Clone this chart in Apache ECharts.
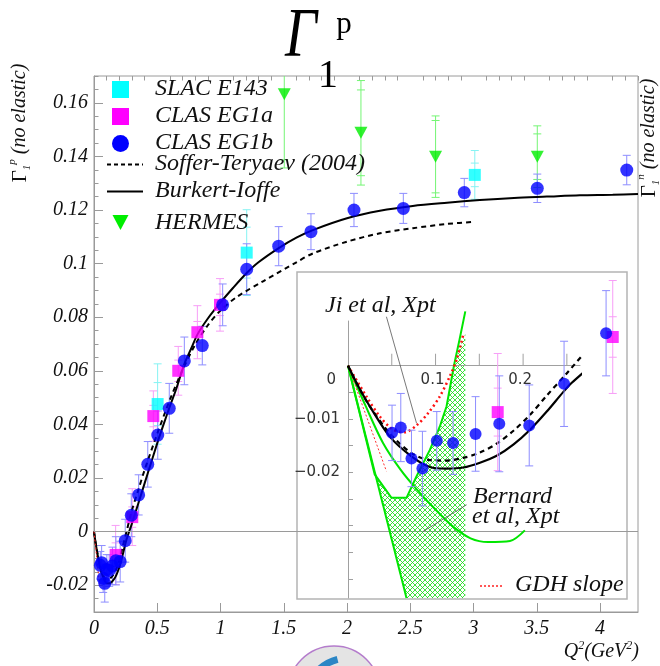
<!DOCTYPE html>
<html><head><meta charset="utf-8">
<script src="https://cdn.jsdelivr.net/npm/echarts@6.0.0/dist/echarts.min.js"></script>
<style>html,body{margin:0;padding:0;background:#fff}#c{width:660px;height:666px}</style>
</head><body><div id="c"></div>
<script>
// ---------------- DATA ----------------
const mainXTicks = [0, 0.5, 1, 1.5, 2, 2.5, 3, 3.5, 4];
const mainXLabels = ['0', '0.5', '1', '1.5', '2', '2.5', '3', '3.5', '4'];
const mainYTicks = [-0.02, 0, 0.02, 0.04, 0.06, 0.08, 0.1, 0.12, 0.14, 0.16];
const mainYLabels = ['-0.02', '0', '0.02', '0.04', '0.06', '0.08', '0.1', '0.12', '0.14', '0.16'];
const insetXTicks = [0.05, 0.1, 0.15, 0.2, 0.25];
const insetXLabelVals = [0.1, 0.2];
const insetXLabels = ['0.1', '0.2'];
const insetYTicks = [-0.005, -0.01, -0.015, -0.02, -0.025, -0.03, -0.035, -0.04];
const insetYLabelVals = [-0.01, -0.02];
const insetYLabels = ['\u22120.01', '\u22120.02'];

// CLAS EG1b (blue circles)
const blueQ2 = [0.0503, 0.0603, 0.0725, 0.085, 0.1014, 0.120, 0.1457, 0.1728, 0.207, 0.2468, 0.2948, 0.353, 0.425, 0.504, 0.595, 0.714, 0.856, 1.017, 1.207, 1.46, 1.715, 2.055, 2.445, 2.927, 3.504, 4.211];
const blueG = [-0.0126, -0.0116, -0.0174, -0.0193, -0.0141, -0.0145, -0.0128, -0.0109, -0.0112, -0.0034, 0.0061, 0.0137, 0.0251, 0.036, 0.046, 0.0637, 0.0694, 0.0846, 0.0979, 0.1065, 0.1119, 0.120, 0.1206, 0.1265, 0.1281, 0.1349];
const blueErr = [0.0052, 0.0064, 0.0053, 0.007, 0.0055, 0.0059, 0.007, 0.009, 0.0076, 0.008, 0.008, 0.0075, 0.0085, 0.009, 0.0093, 0.0089, 0.0072, 0.0078, 0.0095, 0.0073, 0.0067, 0.0062, 0.0056, 0.0053, 0.0053, 0.0055];
// CLAS EG1a (magenta squares)
const magQ2 = [0.171, 0.3024, 0.469, 0.666, 0.817, 0.996];
const magG = [-0.0087, 0.0054, 0.0431, 0.060, 0.0744, 0.0846];
const magErr = [0.011, 0.0106, 0.0094, 0.0091, 0.0099, 0.0098];
const magStat = [0.0045, 0.0038, 0.004, 0.004, 0.004, 0.004];
// SLAC E143 (cyan squares)
const cyanQ2 = [0.503, 1.207, 3.01];
const cyanG = [0.0476, 0.1041, 0.1331];
const cyanErr = [0.015, 0.016, 0.0091];
const cyanStat = [0.008, 0.0095, 0.0044];
// HERMES (green triangles)
const hermesQ2 = [1.504, 2.11, 2.70, 3.504];
const hermesG = [0.1632, 0.1488, 0.1399, 0.1399];
const hermesErr = [0.0275, 0.0195, 0.0152, 0.0115];
const hermesStat = [0.0245, 0.016, 0.0135, 0.0085];

// Burkert-Ioffe (solid)
const burkQ2 = [0, 0.0125, 0.0248, 0.0477, 0.0725, 0.0935, 0.1126, 0.1316, 0.1507, 0.1698, 0.1888, 0.208, 0.227, 0.246, 0.2556, 0.28, 0.3006, 0.35, 0.4, 0.45, 0.5, 0.55, 0.6, 0.65, 0.714, 0.77, 0.817, 0.9, 1.0, 1.1, 1.207, 1.3, 1.46, 1.6, 1.73, 2.0, 2.26, 2.52, 2.79, 3.05, 3.32, 3.58, 3.84, 4.1, 4.3];
const burkG = [0, -0.0041, -0.0076, -0.0133, -0.017, -0.019, -0.0193, -0.0191, -0.0182, -0.0169, -0.0148, -0.012, -0.0086, -0.0049, -0.0032, 0.0003, 0.0031, 0.0105, 0.018, 0.0255, 0.033, 0.040, 0.0468, 0.0532, 0.0625, 0.0685, 0.0735, 0.0795, 0.0855, 0.091, 0.0965, 0.1005, 0.1058, 0.1097, 0.1125, 0.1169, 0.1197, 0.1215, 0.1227, 0.1237, 0.1245, 0.125, 0.1255, 0.1257, 0.126];
// Soffer-Teryaev (2004) (dashed)
const softQ2 = [0, 0.0125, 0.0248, 0.0477, 0.0725, 0.0935, 0.1126, 0.1316, 0.1507, 0.17, 0.189, 0.208, 0.227, 0.25, 0.2975, 0.35, 0.4, 0.5, 0.6, 0.7, 0.8, 0.9, 1.0, 1.13, 1.34, 1.6, 1.73, 2.0, 2.26, 2.52, 2.79, 3.01];
const softG = [0, -0.0041, -0.0076, -0.0127, -0.0164, -0.0177, -0.0178, -0.0173, -0.0163, -0.0146, -0.0122, -0.0092, -0.0056, -0.0014, 0.0076, 0.0155, 0.023, 0.0365, 0.0492, 0.0603, 0.0698, 0.077, 0.0825, 0.0876, 0.0935, 0.1005, 0.1038, 0.1082, 0.1113, 0.1132, 0.1148, 0.1156];
// Ji et al, Xpt (red dotted)
const jiQ2 = [0, 0.021, 0.0362, 0.0515, 0.0648, 0.0782, 0.0915, 0.1049, 0.1163, 0.124, 0.1316];
const jiG = [0, -0.00575, -0.0095, -0.012, -0.0125, -0.0112, -0.0089, -0.00575, -0.002, 0.0011, 0.0058];
// GDH slope
const gdhQ2 = [0, 0.0439];
const gdhG = [0, -0.0198];
// Bernard et al, Xpt (green)
const bernAQ2 = [0, 0.0668];
const bernAG = [0, -0.0436];
const bernBQ2 = [0, 0.0305, 0.0497, 0.0668, 0.0782, 0.0935, 0.1049, 0.1126, 0.121, 0.1275, 0.134];
const bernBG = [0, -0.0204, -0.0248, -0.0248, -0.0208, -0.0158, -0.0114, -0.0076, 0, 0.005, 0.0102];
const bernCQ2 = [0, 0.02, 0.04, 0.06, 0.08, 0.1, 0.12, 0.14, 0.16, 0.185, 0.202];
const bernCG = [0, -0.0075, -0.0145, -0.0195, -0.0235, -0.027, -0.0302, -0.0324, -0.0331, -0.0329, -0.0309];
const hatchQ2 = [0.0305, 0.0668, 0.134, 0.134, 0.128, 0.121, 0.1126, 0.1049, 0.0935, 0.0782, 0.0668, 0.0497];
const hatchG = [-0.0204, -0.0436, -0.0436, 0.006, 0.0035, 0, -0.0076, -0.0114, -0.0158, -0.0208, -0.0248, -0.0248];
// annotation pointers
const jiPtrQ2 = [0.0439, 0.0783];
const jiPtrG = [0.0092, -0.0108];
const bernPtrQ2 = [0.1355, 0.0858];
const bernPtrG = [-0.0261, -0.0311];

// ---------------- HELPERS ----------------
const zip = (a, b) => a.map((v, i) => [v, b[i]]);
const zipE = (a, b, e, s) => a.map((v, i) => [v, b[i], e[i], s ? s[i] : 0]);
const INSET_MAX = 0.305;
const inInset = (q) => q <= INSET_MAX;
const serif = '"Liberation Serif", "Times New Roman", serif';
const sans = '"DejaVu Sans", sans-serif';

function errSeries(data, color, xi, yi, clip, z) {
  return {
    type: 'custom', xAxisIndex: xi, yAxisIndex: yi, clip: clip, z: z, silent: true,
    data: data, encode: { x: 0, y: 1 },
    renderItem: function (params, api) {
      const x = api.value(0), y = api.value(1), e = api.value(2), s = api.value(3);
      const t = api.coord([x, y + e]), b = api.coord([x, y - e]);
      const w = 4;
      const st = { stroke: color, lineWidth: 1 };
      const ch = [
        { type: 'line', shape: { x1: t[0], y1: t[1], x2: b[0], y2: b[1] }, style: st },
        { type: 'line', shape: { x1: t[0] - w, y1: t[1], x2: t[0] + w, y2: t[1] }, style: st },
        { type: 'line', shape: { x1: b[0] - w, y1: b[1], x2: b[0] + w, y2: b[1] }, style: st }
      ];
      if (s) {
        const ts = api.coord([x, y + s]), bs = api.coord([x, y - s]);
        ch.push({ type: 'line', shape: { x1: ts[0] - w, y1: ts[1], x2: ts[0] + w, y2: ts[1] }, style: st });
        ch.push({ type: 'line', shape: { x1: bs[0] - w, y1: bs[1], x2: bs[0] + w, y2: bs[1] }, style: st });
      }
      return { type: 'group', children: ch };
    }
  };
}
function lineSeries(data, color, width, type, xi, yi, z, smooth) {
  return {
    type: 'line', xAxisIndex: xi, yAxisIndex: yi, data: data, symbol: 'none', silent: true,
    smooth: smooth || false, clip: false, z: z,
    lineStyle: { color: color, width: width, type: type }
  };
}

// hatch pattern
const pc = document.createElement('canvas');
pc.width = 5; pc.height = 5;
const pg = pc.getContext('2d');
pg.strokeStyle = 'rgba(30,220,30,0.85)';
pg.lineWidth = 1;
pg.beginPath(); pg.moveTo(0, 0); pg.lineTo(5, 5); pg.moveTo(5, 0); pg.lineTo(0, 5); pg.stroke();

// minor ticks (axis decoration)
const xMinor = [];
for (let i = 0; i <= 43; i++) { if (i % 5) xMinor.push(Math.round(i * 10) / 100); }
const yMinor = [];
for (let i = -6; i <= 34; i++) { const v = Math.round(i * 5) / 1000; if (Math.abs(Math.round(v * 50) - v * 50) > 1e-6) yMinor.push(v); }

const labelFromList = (ticks, labels) => (v) => {
  const i = ticks.findIndex(t => Math.abs(t - v) < 1e-9);
  return i >= 0 ? labels[i] : '';
};

const axisGray = '#9a9a9a';
const chart = echarts.init(document.getElementById('c'));
const insetOK = (arrQ, arrG, e, s) => zipE(arrQ, arrG, e, s).filter(d => inInset(d[0]));
const txtStyle = (text, font, align) => ({ text: text, font: font, fill: '#111', align: align, verticalAlign: 'middle', textAlign: align, textVerticalAlign: 'middle' });

const option = {
  animation: false,
  backgroundColor: '#fff',
  grid: [
    { left: 94, top: 76, right: 22, bottom: 54, show: true, borderColor: axisGray, borderWidth: 1, backgroundColor: 'transparent' },
    { left: 297, top: 272, right: 33, bottom: 67, show: true, borderColor: '#b4b4b4', borderWidth: 1.5, backgroundColor: '#fff', z: 5 },
    { left: 348, top: 321, right: 80, bottom: 68, show: false, z: 6 }
  ],
  xAxis: [
    { type: 'value', gridIndex: 0, min: 0, max: 4.3,
      axisLine: { show: true, onZero: false, lineStyle: { color: axisGray } },
      axisTick: { show: true, inside: true, length: 9, customValues: mainXTicks, lineStyle: { color: axisGray } },
      axisLabel: { customValues: mainXTicks, formatter: labelFromList(mainXTicks, mainXLabels), fontFamily: serif, fontStyle: 'italic', fontSize: 20, color: '#111', margin: 7 },
      splitLine: { show: false } },
    { type: 'value', gridIndex: 0, min: 0, max: 4.3,
      axisLine: { show: false, onZero: false },
      axisTick: { show: true, inside: true, length: 4.5, customValues: xMinor, lineStyle: { color: axisGray } },
      axisLabel: { show: false }, splitLine: { show: false } },
    { type: 'value', gridIndex: 1, show: false, min: 0, max: 1 },
    { type: 'value', gridIndex: 2, min: 0, max: 0.265, z: 7,
      axisLine: { show: true, onZero: true, lineStyle: { color: '#a0a0a0' } },
      axisTick: { show: false }, axisLabel: { show: false },
      splitLine: { show: false } }
  ],
  yAxis: [
    { type: 'value', gridIndex: 0, min: -0.03, max: 0.17,
      axisLine: { show: true, onZero: false, lineStyle: { color: axisGray } },
      axisTick: { show: true, inside: true, length: 9, customValues: mainYTicks, lineStyle: { color: axisGray } },
      axisLabel: { customValues: mainYTicks, formatter: labelFromList(mainYTicks, mainYLabels), fontFamily: serif, fontStyle: 'italic', fontSize: 20, color: '#111', margin: 6 },
      splitLine: { show: false } },
    { type: 'value', gridIndex: 0, min: -0.03, max: 0.17, position: 'left',
      axisLine: { show: false, onZero: false },
      axisTick: { show: true, inside: true, length: 4.5, customValues: yMinor, lineStyle: { color: axisGray } },
      axisLabel: { show: false }, splitLine: { show: false } },
    { type: 'value', gridIndex: 1, show: false, min: 0, max: 1 },
    { type: 'value', gridIndex: 2, min: -0.0436, max: 0.0084, z: 7,
      axisLine: { show: true, onZero: false, lineStyle: { color: '#a0a0a0' } },
      axisTick: { show: true, inside: true, length: 5, customValues: insetYTicks, lineStyle: { color: '#a0a0a0' } },
      axisLabel: { customValues: insetYLabelVals, formatter: labelFromList(insetYLabelVals, insetYLabels), fontFamily: sans, fontSize: 15, color: '#333', margin: 8 },
      splitLine: { show: false } }
  ],
  series: [
    // ---- main plot ----
    Object.assign(lineSeries(zip(softQ2, softG), '#000', 2, [5, 4], 0, 0, 2, 0.3), { clip: true }),
    Object.assign(lineSeries(zip(burkQ2, burkG), '#000', 2, 'solid', 0, 0, 2, 0.3), {
      clip: true,
      markLine: { silent: true, symbol: 'none', label: { show: false }, lineStyle: { color: '#9a9a9a', type: 'solid', width: 1 }, data: [{ yAxis: 0 }] }
    }),
    Object.assign(lineSeries(zip(gdhQ2, gdhG), '#ff2020', 1, [2, 2], 0, 0, 2), { clip: true }),
    errSeries(zipE(hermesQ2, hermesG, hermesErr, hermesStat), '#74f574', 0, 0, true, 2),
    errSeries(zipE(cyanQ2, cyanG, cyanErr, cyanStat), '#86f3f3', 0, 0, true, 2),
    errSeries(zipE(magQ2, magG, magErr, magStat), '#f79ef7', 0, 0, true, 2),
    errSeries(zipE(blueQ2, blueG, blueErr), '#8d8dff', 0, 0, true, 2),
    { type: 'scatter', xAxisIndex: 0, yAxisIndex: 0, data: zip(hermesQ2, hermesG), symbol: 'triangle', symbolRotate: 180, symbolSize: [13, 12], itemStyle: { color: '#00ee00' }, z: 3, silent: true },
    { type: 'scatter', xAxisIndex: 0, yAxisIndex: 0, data: zip(cyanQ2, cyanG), symbol: 'rect', symbolSize: 12, itemStyle: { color: '#00ffff' }, z: 3, silent: true },
    { type: 'scatter', xAxisIndex: 0, yAxisIndex: 0, data: zip(magQ2, magG), symbol: 'rect', symbolSize: 12, itemStyle: { color: '#ff00ff' }, z: 3, silent: true },
    { type: 'scatter', xAxisIndex: 0, yAxisIndex: 0, data: zip(blueQ2, blueG), symbol: 'circle', symbolSize: 13, itemStyle: { color: '#0000ff' }, z: 3, silent: true },

    // ---- inset ----
    { type: 'custom', xAxisIndex: 3, yAxisIndex: 3, clip: false, z: 6, silent: true,
      data: [[hatchQ2[0], hatchG[0]]],
      renderItem: function (params, api) {
        const pts = hatchQ2.map((q, i) => api.coord([q, hatchG[i]]));
        return { type: 'polygon', shape: { points: pts }, style: { fill: { image: pc, repeat: 'repeat' }, stroke: null } };
      } },
    // inset x-axis ticks and labels on the zero line
    { type: 'custom', xAxisIndex: 3, yAxisIndex: 3, clip: false, z: 8, silent: true,
      data: insetXTicks.map(v => [v, 0]), encode: { x: 0, y: 1 },
      renderItem: function (params, api) {
        const p = api.coord([api.value(0), 0]);
        return { type: 'line', shape: { x1: p[0], y1: p[1], x2: p[0], y2: p[1] - 12 }, style: { stroke: '#a0a0a0', lineWidth: 1 } };
      } },
    { type: 'custom', xAxisIndex: 3, yAxisIndex: 3, clip: false, z: 8, silent: true,
      data: insetXLabelVals.map((v, i) => [v, 0, i]), encode: { x: 0, y: 1 },
      renderItem: function (params, api) {
        const p = api.coord([api.value(0), 0]);
        return { type: 'text', x: p[0] - 3, y: p[1] + 14, style: { text: insetXLabels[api.value(2)], font: '15px ' + sans, fill: '#333', align: 'center', verticalAlign: 'middle', textAlign: 'center', textVerticalAlign: 'middle' } };
      } },
    lineSeries(zip(bernAQ2, bernAG), '#00e600', 2, 'solid', 3, 3, 8),
    lineSeries(zip(bernBQ2, bernBG), '#00e600', 2, 'solid', 3, 3, 8),
    lineSeries(zip(bernCQ2, bernCG), '#00e600', 2, 'solid', 3, 3, 8, 0.3),
    lineSeries(zip(gdhQ2, gdhG), '#ff3030', 1, [2, 2], 3, 3, 8),
    lineSeries(zip(jiQ2, jiG), '#ff1010', 2.5, [2, 3], 3, 3, 8, 0.3),
    lineSeries(zip(jiPtrQ2, jiPtrG), '#555', 0.8, 'solid', 3, 3, 8),
    lineSeries(zip(bernPtrQ2, bernPtrG), '#555', 0.8, 'solid', 3, 3, 8),
    lineSeries(zip(softQ2, softG).filter(d => inInset(d[0])), '#000', 2.2, [5, 4], 3, 3, 9, 0.3),
    lineSeries(zip(burkQ2, burkG).filter(d => inInset(d[0])), '#000', 2.2, 'solid', 3, 3, 9, 0.3),
    errSeries(insetOK(magQ2, magG, magErr, magStat), '#f79ef7', 3, 3, false, 10),
    errSeries(insetOK(blueQ2, blueG, blueErr), '#8d8dff', 3, 3, false, 10),
    { type: 'scatter', xAxisIndex: 3, yAxisIndex: 3, clip: false, data: zip(magQ2, magG).filter(d => inInset(d[0])), symbol: 'rect', symbolSize: 12, itemStyle: { color: '#ff00ff' }, z: 11, silent: true },
    { type: 'scatter', xAxisIndex: 3, yAxisIndex: 3, clip: false, data: zip(blueQ2, blueG).filter(d => inInset(d[0])), symbol: 'circle', symbolSize: 12, itemStyle: { color: '#0000ff' }, z: 11, silent: true }
  ],
  graphic: [
    // title
    { type: 'text', x: 301, y: 38, z: 50, scaleX: 0.8, style: Object.assign(txtStyle('\u0393', 'italic 70px ' + serif, 'center'), { fill: '#000' }) },
    { type: 'text', x: 328, y: 76, z: 50, style: Object.assign(txtStyle('1', '40px ' + serif, 'center'), { fill: '#000' }) },
    { type: 'text', x: 344, y: 25, z: 50, style: Object.assign(txtStyle('p', '31px ' + serif, 'center'), { fill: '#000' }) },
    // y titles
    { type: 'text', x: 20, y: 123, rotation: Math.PI / 2, z: 50, style: {
      text: '{g|\u0393}{s|1}{p|p}{t| (no elastic)}', fill: '#111', align: 'center', verticalAlign: 'middle', textAlign: 'center', textVerticalAlign: 'middle',
      rich: { g: { fontSize: 21, fontFamily: serif, lineHeight: 26, verticalAlign: 'middle' },
              s: { fontSize: 11, fontFamily: serif, fontStyle: 'italic', lineHeight: 12, verticalAlign: 'bottom' },
              p: { fontSize: 11, fontFamily: serif, fontStyle: 'italic', lineHeight: 12, verticalAlign: 'top' },
              t: { fontSize: 20, fontFamily: serif, fontStyle: 'italic', lineHeight: 26, verticalAlign: 'middle' } } } },
    { type: 'text', x: 649, y: 138, rotation: Math.PI / 2, z: 50, style: {
      text: '{g|\u0393}{s|1}{p|n}{t| (no elastic)}', fill: '#111', align: 'center', verticalAlign: 'middle', textAlign: 'center', textVerticalAlign: 'middle',
      rich: { g: { fontSize: 21, fontFamily: serif, lineHeight: 26, verticalAlign: 'middle' },
              s: { fontSize: 11, fontFamily: serif, fontStyle: 'italic', lineHeight: 12, verticalAlign: 'bottom' },
              p: { fontSize: 11, fontFamily: serif, fontStyle: 'italic', lineHeight: 12, verticalAlign: 'top' },
              t: { fontSize: 20, fontFamily: serif, fontStyle: 'italic', lineHeight: 26, verticalAlign: 'middle' } } } },
    // x title
    { type: 'text', x: 639, y: 652, z: 50, style: {
      text: '{i|Q}{s|2}{i|(GeV}{s|2}{i|)}', fill: '#111', align: 'right', verticalAlign: 'middle', textAlign: 'right', textVerticalAlign: 'middle',
      rich: { i: { fontSize: 20, fontFamily: serif, fontStyle: 'italic', lineHeight: 24, verticalAlign: 'middle' },
              s: { fontSize: 12, fontFamily: serif, fontStyle: 'italic', lineHeight: 12, verticalAlign: 'top' } } } },
    // legend
    { type: 'rect', z: 50, shape: { x: 112, y: 81, width: 17, height: 17 }, style: { fill: '#00ffff' } },
    { type: 'rect', z: 50, shape: { x: 112, y: 108, width: 17, height: 17 }, style: { fill: '#ff00ff' } },
    { type: 'circle', z: 50, shape: { cx: 120.5, cy: 143.5, r: 8.5 }, style: { fill: '#0000ff' } },
    { type: 'line', z: 50, shape: { x1: 107, y1: 164.5, x2: 143, y2: 164.5 }, style: { stroke: '#000', lineWidth: 2, lineDash: [4, 3] } },
    { type: 'line', z: 50, shape: { x1: 107, y1: 191.5, x2: 143, y2: 191.5 }, style: { stroke: '#000', lineWidth: 2 } },
    { type: 'polygon', z: 50, shape: { points: [[112.5, 215], [128.5, 215], [120.5, 230]] }, style: { fill: '#00ee00' } },
    { type: 'text', x: 155, y: 89, z: 50, style: txtStyle('SLAC E143', 'italic 24px ' + serif, 'left') },
    { type: 'text', x: 155, y: 116, z: 50, style: txtStyle('CLAS EG1a', 'italic 24px ' + serif, 'left') },
    { type: 'text', x: 155, y: 143, z: 50, style: txtStyle('CLAS EG1b', 'italic 24px ' + serif, 'left') },
    { type: 'text', x: 155, y: 164, z: 50, style: txtStyle('Soffer-Teryaev (2004)', 'italic 24px ' + serif, 'left') },
    { type: 'text', x: 155, y: 191, z: 50, style: txtStyle('Burkert-Ioffe', 'italic 24px ' + serif, 'left') },
    { type: 'text', x: 155, y: 223, z: 50, style: txtStyle('HERMES', 'italic 24px ' + serif, 'left') },
    // inset annotations
    { type: 'text', x: 325, y: 306, z: 50, style: txtStyle('Ji et al, Xpt', 'italic 24px ' + serif, 'left') },
    { type: 'text', x: 473, y: 497, z: 50, style: txtStyle('Bernard', 'italic 24px ' + serif, 'left') },
    { type: 'text', x: 472, y: 517, z: 50, style: txtStyle('et al, Xpt', 'italic 24px ' + serif, 'left') },
    { type: 'line', z: 50, shape: { x1: 480, y1: 586, x2: 504, y2: 586 }, style: { stroke: '#ff2020', lineWidth: 1.5, lineDash: [2, 2] } },
    { type: 'text', x: 515, y: 585, z: 50, style: txtStyle('GDH slope', 'italic 24px ' + serif, 'left') },
    { type: 'text', x: 336, y: 380, z: 50, style: Object.assign(txtStyle('0', '15px ' + sans, 'right'), { fill: '#333' }) },
    // logo at bottom
    { type: 'ellipse', z: 40, shape: { cx: 334, cy: 692, rx: 46, ry: 46 }, style: { fill: '#e4e4e4', stroke: '#b47ccc', lineWidth: 1.5 } },
    { type: 'arc', z: 41, shape: { cx: 348, cy: 700, r: 42, startAngle: Math.PI * 1.02, endAngle: Math.PI * 1.42 }, style: { stroke: '#2b86c5', lineWidth: 7, fill: null } },
    { type: 'ellipse', z: 41, shape: { cx: 345, cy: 690, rx: 28, ry: 22 }, style: { fill: '#f3f3f3', stroke: '#555', lineWidth: 1 } }
  ]
};
chart.setOption(option);
</script>
</body></html>
